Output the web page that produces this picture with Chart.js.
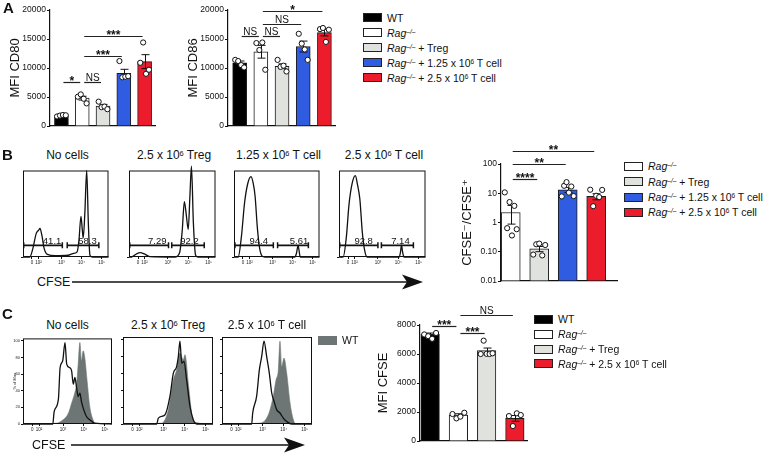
<!DOCTYPE html>
<html>
<head>
<meta charset="utf-8">
<script src="https://cdn.jsdelivr.net/npm/chart.js@4.4.0/dist/chart.umd.min.js"></script>
<style>
  body { margin: 0; background: #fff; }
  #fig { position: relative; width: 768px; height: 454px; overflow: hidden;
         font-family: Arial, "Liberation Sans", "DejaVu Sans", sans-serif; color: #111; }
  canvas { position: absolute; }
  .tt { position: absolute; transform: translate(-50%, -50%); font-size: 12px; white-space: nowrap; }
  .let { position: absolute; font-size: 15px; font-weight: bold; }
  .lg { position: absolute; display: flex; align-items: center; height: 14px; font-size: 10.5px; white-space: nowrap; }
  .sw { display: inline-block; width: 17px; height: 7px; border: 1px solid #222; margin-right: 5px; }
  sup { font-size: 0.62em; vertical-align: 0.45em; line-height: 0; }
  .cf { position: absolute; font-size: 12.5px; transform: translateY(-50%); }
  svg { position: absolute; overflow: visible; }
</style>
</head>
<body>
<div id="fig"></div>
<script>
// ---- data: panel A ----
const groupsA = ['WT', 'Rag-/-', 'Rag-/- + Treg', 'Rag-/- + 1.25e6 T', 'Rag-/- + 2.5e6 T'];
const cd80Bars = [1800, 4800, 3450, 9100, 11100];
const cd80Pts = [[1650, 1800, 1900, 1850], [5050, 5450, 4700, 3900], [4200, 3250, 3350, 2900], [11200, 8400, 8500, 8600], [10900, 14400, 9000, 9700]];
const cd80Sig = [[0, 1, 7640, '*'], [1, 2, 7640, 'NS'], [1, 3, 12070, '***'], [1, 4, 15570, '***']];
const cd86Bars = [10900, 12800, 10300, 13700, 16100];
const cd86Pts = [[11400, 11200, 10500, 10100], [14300, 13100, 14400, 9700], [11400, 10200, 10400, 9400], [15900, 14200, 13200, 11400], [16700, 16900, 14500, 16600]];
const cd86Sig = [[0, 1, 15520, 'NS'], [1, 2, 15520, 'NS'], [1, 3, 17590, 'NS'], [1, 4, 19830, '*']];
const mfiTicks = [0, 5000, 10000, 15000, 20000];

// ---- data: panel B ----
const ratioBars = [2.2, 0.126, 13.2, 7.8];
const ratioPts = [[10.7, 0.64, 5.0, 0.36, 3.7, 0.59], [0.08, 0.18, 0.19, 0.075, 0.17], [7.8, 18, 24, 10.5, 17, 8.0], [13.2, 3.6, 8.2, 7.4, 13.0]];
const ratioSig = [[0, 1, 30.6, '****'], [0, 2, 102, '**'], [0, 3, 270, '**']];
const logTicks = [0.01, 0.1, 1, 10, 100];
const logTickLabels = ['0.01', '0.10', '1', '10', '100'];

// flow histograms (x: position along CFSE axis, y: % of max)
const histTickPos = [10.5, 18, 45, 68.5, 92];
const histTickLabels = ['0', '10²', '10³', '10⁴', '10⁵'];
const b1x = [0, 7.9, 11.6, 15.4, 18.3, 19.9, 22.1, 24.7, 28.5, 37.8, 52.8, 58.4, 63.3, 65.5, 67.8, 69.3, 70.4, 72.3, 74.5, 76.4, 78.3, 80.9, 100];
const b1y = [0, 0, 10, 27, 31, 33, 25, 10, 3, 1.5, 2, 4, 6, 20, 47, 32, 22, 50, 100, 40, 2, 0, 0];
const b2x = [0, 3, 8.5, 13, 17.8, 24, 53, 58.5, 61.5, 64, 66.3, 68.5, 70.4, 72.2, 74.4, 77, 79.6, 100];
const b2y = [0, 0, 3.5, 5, 3.5, 0.5, 0, 5, 30, 64, 48, 32, 70, 105, 40, 2, 0, 0];
const b3x = [0, 4.9, 8.6, 12.4, 16.1, 19.9, 22.5, 24.7, 27.3, 30, 33, 36, 71, 73, 75, 76, 77.5, 100];
const b3y = [0, 0, 23, 63, 85, 93, 85, 70, 34, 10, 1, 0, 0, 4, 13.5, 8, 0, 0];
const b4x = [0, 4.8, 8.5, 11.5, 15.2, 18.9, 21.5, 24.1, 27, 29.6, 32.6, 69.6, 71, 72.2, 73.5, 75.2, 100];
const b4y = [0, 0, 23, 60, 85, 94, 83, 67, 28, 8, 0, 0, 5, 13.6, 6, 0, 0];
const gateLevel = 13.5;
const gatesB1 = [[0.8, 46, '41.1', 34], [51.7, 88.7, '58.3', 75.5]];
const gatesB2 = [[0.8, 45.7, '7.29', 32.6], [49.4, 87, '92.2', 70]];
const gatesB3 = [[1.1, 46, '94.4', 29], [51, 87, '5.61', 76]];
const gatesB4 = [[0.8, 45, '92.8', 28.5], [49, 86, '7.14', 71]];

// ---- data: panel C ----
const cfseBars = [7360, 1790, 6230, 1560];
const cfsePts = [[7350, 7230, 7050, 7450], [1860, 1560, 1680, 1950], [6000, 6920, 6010, 6000, 6050], [1720, 1030, 1910, 1790]];
const cfseSig = [[0, 1, 7930, '***'], [1, 2, 7430, '***'], [1, 3, 8690, 'NS']];
const cfseTicks = [0, 2000, 4000, 6000, 8000];
const c1x = [0, 33.5, 35, 39.8, 41.7, 44.6, 47.2, 49.1, 52, 54.6, 56.5, 58.3, 60.2, 62, 63.9, 65.7, 68.3, 71.3, 75, 80.6, 100];
const c1y = [0, 0, 15, 30, 68, 76, 98, 72, 68, 64, 48, 56, 44, 33, 37, 27, 17, 9, 5, 1, 0];
const c1wx = [0, 38, 45, 51, 54.6, 58.3, 60.2, 62, 63.9, 65.7, 67.6, 69.4, 72, 75, 78.7, 81.7, 100];
const c1wy = [0, 1, 5, 13, 25, 38, 48, 72, 98, 76, 88, 80, 52, 21, 5, 0, 0];
const c2x = [0, 37.4, 39.3, 46.7, 52.2, 55.9, 59.6, 61.5, 63.3, 65.2, 67.8, 70.7, 74.4, 78.1, 81.9, 100];
const c2y = [0, 0, 7, 11, 33, 60, 68, 80, 98, 72, 74, 52, 21, 5, 0, 0];
const c2wx = [0, 43, 50.4, 55.9, 59.6, 63.3, 67, 68.9, 72.6, 76.3, 80, 100];
const c2wy = [0, 1, 17, 52, 64, 84, 76, 82, 48, 13, 2, 0];
const c3x = [0, 33, 34.1, 38.5, 41.5, 44.1, 46.7, 49.6, 52.6, 55.2, 57.8, 60.7, 64.4, 68.1, 71.9, 77.4, 100];
const c3y = [0, 0, 13, 33, 64, 80, 98, 80, 60, 37, 27, 17, 13, 7, 3, 0, 0];
const c3wx = [0, 42.2, 51.5, 57, 60, 62.6, 64.4, 66.3, 68.9, 71.9, 75.6, 79.3, 82.2, 100];
const c3wy = [0, 1, 11, 33, 52, 64, 98, 68, 78, 60, 25, 5, 0, 0];
const pctTicks = [0, 20, 40, 60, 80, 100];
const pctTickLabels = ['0', '20', '40', '60', '80', '100'];

// ---- colours ----
const colA = ['#000000', '#ffffff', '#dfe2dd', '#2f5ce0', '#ec1c2c'];
const colB = ['#ffffff', '#dfe2dd', '#2f5ce0', '#ec1c2c'];
const colC = ['#000000', '#ffffff', '#dfe2dd', '#ec1c2c'];
const wtFill = '#6d7674';

const F = 'Arial, "Liberation Sans", "DejaVu Sans", sans-serif';
Chart.defaults.font.family = F;
Chart.defaults.color = '#111';
Chart.defaults.animation = false;
Chart.defaults.responsive = false;
Chart.defaults.devicePixelRatio = 1;
Chart.defaults.plugins.legend.display = false;
Chart.defaults.plugins.tooltip.enabled = false;

const fig = document.getElementById('fig');

function place(area, m) {
  const c = document.createElement('canvas');
  c.width = area[2] + m.l + m.r;
  c.height = area[3] + m.t + m.b;
  c.style.left = (area[0] - m.l) + 'px';
  c.style.top = (area[1] - m.t) + 'px';
  fig.appendChild(c);
  return c;
}

// significance brackets, in data units of the chart
const sigPlugin = {
  id: 'sig',
  afterDraw(chart, args, o) {
    if (!o.items) return;
    const { ctx, scales: { x, y } } = chart;
    ctx.save();
    ctx.strokeStyle = '#222';
    ctx.fillStyle = '#111';
    ctx.lineWidth = 1.2;
    ctx.textAlign = 'center';
    o.items.forEach(([a, b, v, t]) => {
      const x1 = x.getPixelForValue(a) + 2, x2 = x.getPixelForValue(b) - 2;
      const yy = Math.round(y.getPixelForValue(v)) + 0.5;
      ctx.beginPath(); ctx.moveTo(x1, yy); ctx.lineTo(x2, yy); ctx.stroke();
      const star = t !== 'NS';
      ctx.font = star ? 'bold 12px ' + F : '10px ' + F;
      ctx.fillText(t, (x1 + x2) / 2, star ? yy + 2 : yy - 2);
    });
    ctx.restore();
  }
};

// mean +/- SEM whiskers, drawn after the bars and before the dots
const errPlugin = {
  id: 'errs',
  afterDatasetDraw(chart, args, o) {
    if (!o.groups || args.index !== 1) return;
    const { ctx, scales: { x, y } } = chart;
    ctx.save();
    ctx.strokeStyle = '#111';
    ctx.lineWidth = 1;
    o.groups.forEach((g, i) => {
      const n = g.length;
      const mean = g.reduce((s, v) => s + v, 0) / n;
      const sd = Math.sqrt(g.reduce((s, v) => s + (v - mean) ** 2, 0) / (n - 1));
      const sem = sd / Math.sqrt(n);
      const c = Math.round(x.getPixelForValue(i)) + 0.5;
      const top = y.getPixelForValue(o.bars[i] + sem);
      const bot = y.getPixelForValue(Math.max(o.bars[i] - sem, o.bars[i] * 0.4));
      ctx.beginPath();
      ctx.moveTo(c, top); ctx.lineTo(c, bot);
      ctx.moveTo(c - 4, top); ctx.lineTo(c + 4, top);
      ctx.moveTo(c - 4, bot); ctx.lineTo(c + 4, bot);
      ctx.stroke();
    });
    ctx.restore();
  }
};

const framePlugin = {
  id: 'frame',
  afterDraw(chart, args, o) {
    if (!o.on) return;
    const { ctx, chartArea: r } = chart;
    ctx.save();
    ctx.strokeStyle = '#111';
    ctx.lineWidth = 1;
    ctx.strokeRect(r.left + 0.5, r.top + 0.5, r.right - r.left - 1, r.bottom - r.top - 1);
    ctx.restore();
  }
};

const gateLabelPlugin = {
  id: 'gateLabels',
  afterDraw(chart, args, o) {
    if (!o.gates) return;
    const { ctx, scales: { x, y } } = chart;
    ctx.save();
    ctx.font = '9.5px ' + F;
    ctx.fillStyle = '#111';
    ctx.textAlign = 'center';
    o.gates.forEach(g => ctx.fillText(g[2], x.getPixelForValue(g[3]), y.getPixelForValue(o.level) - 1.5));
    ctx.restore();
  }
};

const spread = (j, n) => n > 1 ? (j / (n - 1) - 0.5) * 0.42 : 0;

function barPanel(p) {
  const cv = place(p.area, p.m);
  const pts = p.groups.flatMap((g, i) => g.map((v, j) => ({ x: i + spread(j, g.length), y: v })));
  return new Chart(cv, {
    type: 'bar',
    data: {
      datasets: [
        { type: 'scatter', data: pts, pointRadius: 2.6, pointBackgroundColor: '#fff', pointBorderColor: '#111', pointBorderWidth: 1, clip: false },
        { type: 'bar', data: p.bars.map((v, i) => ({ x: i, y: v })), backgroundColor: p.colors, borderColor: '#1b1b1b', borderWidth: 1, barThickness: p.bw, base: p.base }
      ]
    },
    options: {
      layout: { padding: { left: 0, top: p.m.t, right: p.m.r, bottom: 0 } },
      scales: {
        x: {
          type: 'linear', min: p.xmin, max: p.xmax, offset: false,
          afterFit: s => { s.height = p.m.b; },
          ticks: { display: false },
          grid: { display: true, drawOnChartArea: false, drawTicks: false, offset: false },
          border: { color: '#111', width: 1.2 }
        },
        y: {
          type: p.log ? 'logarithmic' : 'linear', min: p.ymin, max: p.ymax,
          afterFit: s => { s.width = p.m.l; },
          afterBuildTicks: s => { s.ticks = p.ticks.map(v => ({ value: v })); },
          ticks: { callback: v => p.labels[p.ticks.indexOf(v)], font: { size: 8.5 }, padding: 1, color: '#111', autoSkip: false },
          grid: { drawOnChartArea: false, tickLength: 3, color: '#111', lineWidth: 1 },
          border: { color: '#111', width: 1.2 },
          title: { display: true, text: p.title, font: { size: 13 }, color: '#111', padding: { top: p.tp, bottom: 0 } }
        }
      },
      plugins: { sig: { items: p.sig }, errs: { groups: p.groups, bars: p.bars } }
    },
    plugins: [sigPlugin, errPlugin]
  });
}

function curve(xs, ys) { return xs.map((x, i) => ({ x, y: ys[i] })); }

function histPanel(p) {
  const cv = place(p.area, p.m);
  const ds = [{
    data: curve(p.x, p.y), borderColor: '#111', borderWidth: 1.3, pointRadius: 0,
    cubicInterpolationMode: 'monotone', fill: false, clip: false
  }];
  if (p.wx) ds.push({
    data: curve(p.wx, p.wy), borderColor: wtFill, backgroundColor: wtFill, borderWidth: 0.6, pointRadius: 0,
    cubicInterpolationMode: 'monotone', fill: 'origin'
  });
  (p.gates || []).forEach(g => ds.push({
    data: [{ x: g[0], y: gateLevel }, { x: g[1], y: gateLevel }],
    borderColor: '#111', borderWidth: 1.7, pointStyle: 'line', pointRotation: 90,
    pointRadius: 3, pointBorderWidth: 1.5, pointBorderColor: '#111'
  }));
  return new Chart(cv, {
    type: 'line',
    data: { datasets: ds },
    options: {
      layout: { padding: { left: 0, top: p.m.t, right: p.m.r, bottom: 0 } },
      scales: {
        x: {
          type: 'linear', min: 0, max: 100,
          afterFit: s => { s.height = p.m.b; },
          afterBuildTicks: s => { s.ticks = histTickPos.map(v => ({ value: v })); },
          ticks: { callback: v => histTickLabels[histTickPos.indexOf(v)], font: { size: 4.5 }, padding: 1, maxRotation: 0, autoSkip: false, color: '#222' },
          grid: { drawOnChartArea: false, tickLength: 2, color: '#111' },
          border: { display: false }
        },
        y: {
          type: 'linear', min: 0, max: p.ymax,
          afterFit: s => { s.width = p.m.l; },
          afterBuildTicks: s => { s.ticks = p.yt.map(v => ({ value: v })); },
          ticks: { display: !!p.ylab, callback: v => pctTickLabels[pctTicks.indexOf(v)], font: { size: 4 }, padding: 1, autoSkip: false, color: '#222' },
          grid: { drawOnChartArea: false, tickLength: 2, color: '#111' },
          border: { display: false },
          title: { display: !!p.ylab, text: '% of Max', font: { size: 4 }, color: '#222', padding: { top: 1, bottom: 0 } }
        }
      },
      plugins: { frame: { on: true }, gateLabels: { gates: p.gates, level: gateLevel } }
    },
    plugins: [framePlugin, gateLabelPlugin]
  });
}

// ---- panel A bar charts ----
barPanel({ area: [50, 10, 108, 116], m: { l: 50, t: 10, r: 2, b: 8 }, bars: cd80Bars, groups: cd80Pts, colors: colA,
  bw: 14, xmin: -0.55, xmax: 4.5, ymin: 0, ymax: 20000, ticks: mfiTicks, labels: mfiTicks.map(String),
  title: 'MFI CD80', tp: 7.2, sig: cd80Sig });
barPanel({ area: [228, 10, 108, 116], m: { l: 50, t: 10, r: 4, b: 8 }, bars: cd86Bars, groups: cd86Pts, colors: colA,
  bw: 14, xmin: -0.55, xmax: 4.5, ymin: 0, ymax: 20000, ticks: mfiTicks, labels: mfiTicks.map(String),
  title: 'MFI CD86', tp: 7.2, sig: cd86Sig });

// ---- panel B ----
const histYB = [0, 22, 44, 66, 88];
const mB = { l: 6, t: 2, r: 2, b: 9 };
histPanel({ area: [23, 167, 89, 90], m: mB, x: b1x, y: b1y, gates: gatesB1, ymax: 100, yt: histYB });
histPanel({ area: [129, 167, 90, 90], m: mB, x: b2x, y: b2y, gates: gatesB2, ymax: 100, yt: histYB });
histPanel({ area: [234, 167, 89, 90], m: mB, x: b3x, y: b3y, gates: gatesB3, ymax: 100, yt: histYB });
histPanel({ area: [339, 167, 90, 90], m: mB, x: b4x, y: b4y, gates: gatesB4, ymax: 100, yt: histYB });
barPanel({ area: [501, 164, 119, 117], m: { l: 50, t: 24, r: 2, b: 8 }, bars: ratioBars, groups: ratioPts, colors: colB,
  bw: 19, xmin: -0.342, xmax: 3.73, ymin: 0.01, ymax: 100, log: true, base: 0.01, ticks: logTicks, labels: logTickLabels,
  title: 'CFSE⁻/CFSE⁺', tp: 8.2, sig: ratioSig });

// ---- panel C ----
histPanel({ area: [23, 337, 89, 87], m: { l: 12, t: 2, r: 2, b: 9 }, x: c1x, y: c1y, wx: c1wx, wy: c1wy, ymax: 103, yt: pctTicks, ylab: true });
histPanel({ area: [123, 337, 90, 87], m: { l: 6, t: 2, r: 2, b: 9 }, x: c2x, y: c2y, wx: c2wx, wy: c2wy, ymax: 103, yt: pctTicks });
histPanel({ area: [222, 337, 90, 87], m: { l: 6, t: 2, r: 2, b: 9 }, x: c3x, y: c3y, wx: c3wx, wy: c3wy, ymax: 103, yt: pctTicks });
barPanel({ area: [420, 325, 110, 116], m: { l: 50, t: 20, r: 2, b: 8 }, bars: cfseBars, groups: cfsePts, colors: colC,
  bw: 18.5, xmin: -0.36, xmax: 3.43, ymin: 0, ymax: 8000, ticks: cfseTicks, labels: cfseTicks.map(String),
  title: 'MFI CFSE', tp: 5.2, sig: cfseSig });

// ---- text, legends, arrows ----
function add(cls, html, x, y) {
  const d = document.createElement('div');
  d.className = cls; d.innerHTML = html;
  d.style.left = x + 'px'; d.style.top = y + 'px';
  fig.appendChild(d);
  return d;
}
add('let', 'A', 3, -1);
add('let', 'B', 2, 146);
add('let', 'C', 2, 305);

const RAG = '<i>Rag<sup>–/–</sup></i>';
const legendA = ['WT', RAG, RAG + ' + Treg', RAG + ' + 1.25 x 10<sup>6</sup> T cell', RAG + ' + 2.5 x 10<sup>6</sup> T cell'];
const legendB = [RAG, RAG + ' + Treg', RAG + ' + 1.25 x 10<sup>6</sup> T cell', RAG + ' + 2.5 x 10<sup>6</sup> T cell'];
const legendC = ['WT', RAG, RAG + ' + Treg', RAG + ' + 2.5 x 10<sup>6</sup> T cell'];
function legend(x, y0, dy, labels, colors) {
  labels.forEach((html, i) => {
    add('lg', `<span class="sw" style="background:${colors[i]}"></span><span>${html}</span>`, x, y0 + i * dy - 7);
  });
}
legend(363, 17.5, 15, legendA, colA);
legend(624, 166.2, 15.4, legendB, colB);
legend(534, 319.2, 14.9, legendC, colC);
add('lg', `<span class="sw" style="background:${wtFill};border-color:${wtFill}"></span><span>WT</span>`, 318, 333);

const titlesB = ['No cells', '2.5 x 10<sup>6</sup> Treg', '1.25 x 10<sup>6</sup> T cell', '2.5 x 10<sup>6</sup> T cell'];
[67.5, 174, 278.5, 384].forEach((cx, i) => add('tt', titlesB[i], cx, 155));
const titlesC = ['No cells', '2.5 x 10<sup>6</sup> Treg', '2.5 x 10<sup>6</sup> T cell'];
[67.5, 168, 267].forEach((cx, i) => add('tt', titlesC[i], cx, 325));

function arrow(x1, x2, y, label, lx) {
  add('cf', label, lx, y);
  const s = document.createElementNS('http://www.w3.org/2000/svg', 'svg');
  s.setAttribute('width', 768); s.setAttribute('height', 454);
  s.style.left = '0px'; s.style.top = '0px';
  s.innerHTML = `<line x1="${x1}" y1="${y}" x2="${x2 - 16}" y2="${y}" stroke="#111" stroke-width="1.6"/>` +
    `<polygon points="${x2 - 21},${y - 7.5} ${x2},${y} ${x2 - 21},${y + 7.5} ${x2 - 16},${y}" fill="#111"/>`;
  fig.appendChild(s);
}
arrow(72, 423, 282, 'CFSE', 37);
arrow(71, 305, 445, 'CFSE', 32);
</script>
</body>
</html>
